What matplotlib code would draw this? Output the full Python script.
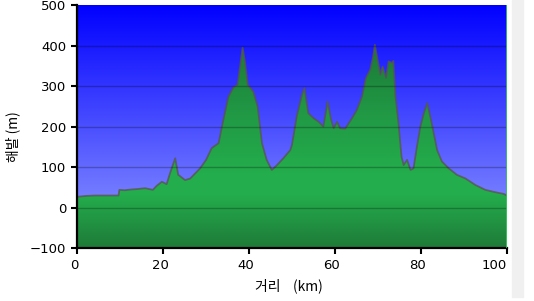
import numpy as np
import matplotlib
matplotlib.use('Agg')
import matplotlib.pyplot as plt
from matplotlib.colors import LinearSegmentedColormap
from matplotlib.patches import Rectangle
from matplotlib.transforms import ScaledTranslation

plt.rcParams['font.family'] = ['DejaVu Sans', 'Noto Sans CJK KR']

# 고도 프로파일
dist_km = [0, 0.2, 2, 4.1, 7, 9.6, 9.8, 11, 12.7, 14, 15.8, 17.6, 18.5, 19.7, 20.8,
           21.6, 22.8, 23.5, 23.9, 25.1, 26.3, 27.5, 28.6, 30, 31.3, 32.9, 34.0, 35.2,
           36.4, 37.3, 37.9, 38.5, 39.1, 39.7, 41.0, 42.0, 43.0, 44.1, 45.3, 46.5, 48.0,
           49.6, 50.0, 51.1, 52.3, 52.9, 53.8, 55.0, 56.2, 57.3, 58.3, 59.1, 59.7, 60.5,
           61.2, 62.4, 64.0, 65.1, 66.3, 67.2, 68.2, 68.9, 69.3, 70.0, 70.6, 71.1, 71.9,
           72.5, 73.3, 73.6, 74.1, 74.8, 75.5, 76.0, 76.8, 77.6, 78.3, 79.1, 79.9, 80.7,
           81.5, 82.2, 83.0, 83.8, 84.9, 86.5, 88.4, 90.4, 92.7, 95.0, 97.4, 99.3, 100]
elev_m = [28, 27, 29, 30, 30, 30, 44, 43, 45, 46, 48, 44, 54, 64, 58,
          85, 122, 81, 78, 68, 72, 85, 97, 118, 147, 159, 216, 274,
          297, 303, 348, 395, 356, 303, 286, 249, 159, 118, 93, 105, 122,
          142, 155, 225, 278, 295, 233, 221, 212, 200, 262, 217, 196, 212,
          196, 195, 221, 241, 274, 319, 340, 373, 402, 361, 328, 348, 320,
          361, 357, 362, 274, 208, 126, 105, 118, 93, 97, 151, 200, 233,
          258, 225, 184, 142, 114, 97, 81, 72, 56, 44, 38, 34, 30]

y_ticks = [-100, 0, 100, 200, 300, 400, 500]
x_ticks = [0, 20, 40, 60, 80, 100]

fig = plt.figure(figsize=(5.34, 3.01), dpi=100)
fig.patches.append(Rectangle((512 / 534, 4 / 301), 11 / 534, 297 / 301,
                             transform=fig.transFigure, color='#f0f0f0', zorder=-1))
ax = fig.add_axes([77.3 / 534, 1 - 248.2 / 301, 429.4 / 534, 243.2 / 301])

x0, x1, y0, y1 = 0, 100, -100, 500

# 배경: 파란색 그라데이션
sky = LinearSegmentedColormap.from_list('sky', [(0.58, 0.62, 1.0), (0.0, 0.0, 1.0)])
grad = np.linspace(0, 1, 256).reshape(-1, 1)
ax.imshow(grad, cmap=sky, extent=[x0, x1, y0, y1], origin='lower', aspect='auto', zorder=0)

# 지형: 초록색 그라데이션 (채움 영역으로 자르기)
green = LinearSegmentedColormap.from_list('grn', [
    (0.0, (0.12, 0.48, 0.22)),
    (0.22, (0.14, 0.68, 0.30)),
    (0.30, (0.14, 0.68, 0.30)),
    (0.55, (0.13, 0.60, 0.27)),
    (1.0, (0.09, 0.40, 0.18))])
poly = ax.fill_between(dist_km, elev_m, y0, color='none', lw=0, zorder=1)
gimg = ax.imshow(grad, cmap=green, extent=[x0, x1, y0, y1], origin='lower',
                 aspect='auto', zorder=1)
gimg.set_clip_path(poly.get_paths()[0], transform=ax.transData)
ax.plot(dist_km, elev_m, color=(0.35, 0.33, 0.30), lw=1.3, alpha=0.75, zorder=2)
ax.axvline(100, color='#33cc55', lw=1.2, zorder=3)

for yv in [0, 100, 200, 300, 400]:
    ax.axhline(yv, color='black', lw=1.0, alpha=0.25, zorder=2.5)

ax.set_xlim(x0, x1)
ax.set_ylim(y0, y1)
ax.set_xticks(x_ticks)
ax.set_yticks(y_ticks)
ax.tick_params(direction='out', length=4, width=1.5, labelsize=9.5, pad=4)
for s in ['top', 'right']:
    ax.spines[s].set_visible(False)
for s in ['left', 'bottom']:
    ax.spines[s].set_linewidth(1.6)

# x 눈금 라벨을 조금 왼쪽으로, 마지막 라벨은 안쪽으로
for i, lab in enumerate(ax.get_xticklabels()):
    shift = -3 / 100 if i < len(x_ticks) - 1 else -13 / 100
    lab.set_transform(lab.get_transform() + ScaledTranslation(shift, 0, fig.dpi_scale_trans))

fig.text(289 / 534, 1 - 286 / 301, '거리    (km)', ha='center', va='center', fontsize=10,
         family=['Noto Sans CJK KR', 'DejaVu Sans'])
fig.text(13 / 534, 1 - 137 / 301, '해발 (m)', ha='center', va='center', fontsize=10,
         rotation=90, family=['Noto Sans CJK KR', 'DejaVu Sans'])

fig.savefig('out.png', dpi=100)
